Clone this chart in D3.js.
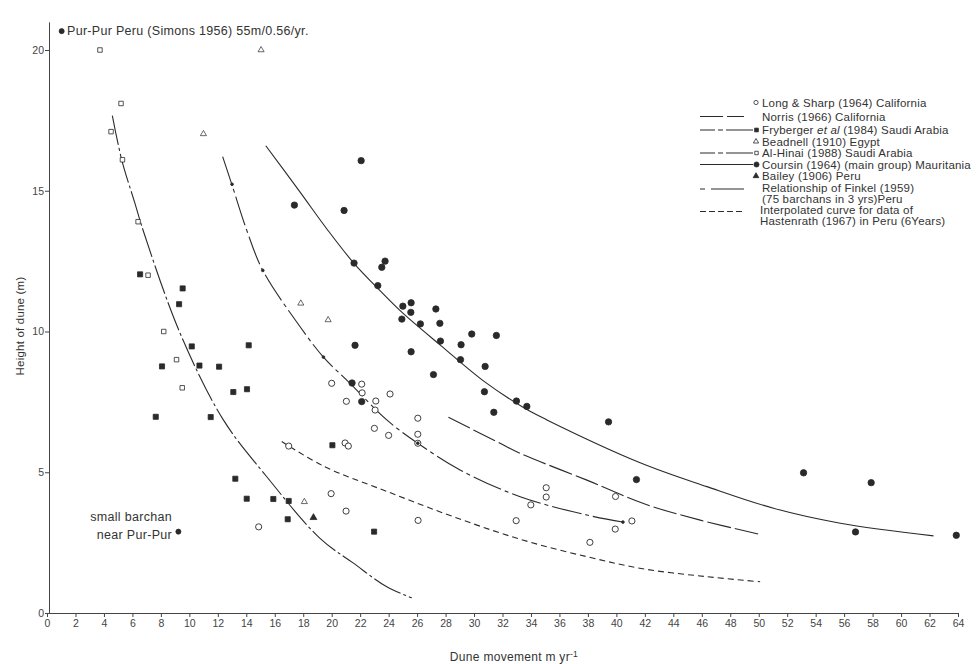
<!DOCTYPE html>
<html>
<head>
<meta charset="utf-8">
<script src="https://cdn.jsdelivr.net/npm/d3@7"></script>
<style>
  html, body { margin: 0; padding: 0; background: #fff; }
  svg { display: block; font-family: "Liberation Sans", Arial, Helvetica, sans-serif; }
  .axis text { font-size: 10.5px; fill: #444; }
  .axis path, .axis line { stroke: #444; stroke-width: 1; }
</style>
</head>
<body>
<svg id="chart" width="979" height="664"></svg>
<script>
// ---------- data ----------
const xTicks = d3.range(0, 65, 2);
const yTicks = [0, 5, 10, 15, 20];

const longSharp = [[20.0,8.16],[22.11,8.13],[22.14,7.82],[24.1,7.78],[21.03,7.52],[23.1,7.53],[23.05,7.21],[26.05,6.92],[23.0,6.56],[24.0,6.31],[26.05,6.35],[26.05,6.03],[20.94,6.04],[21.17,5.93],[19.96,4.24],[21.01,3.62],[26.07,3.29],[32.96,3.28],[33.99,3.84],[35.07,4.45],[35.07,4.12],[38.14,2.51],[39.94,4.14],[39.92,2.98],[41.09,3.27],[16.98,5.93],[14.87,3.06]];
const fryberger = [[6.54,12.03],[9.53,11.53],[9.28,10.97],[10.17,9.47],[14.17,9.51],[8.08,8.76],[10.71,8.79],[12.09,8.75],[13.09,7.85],[14.05,7.95],[7.64,6.97],[11.5,6.96],[13.23,4.77],[14.03,4.06],[15.9,4.05],[16.98,3.98],[16.91,3.33],[20.05,5.96],[22.98,2.89]];
const beadnell = [[15.04,20.0],[10.99,17.02],[17.83,11.0],[19.75,10.41],[18.08,3.95]];
const alHinai = [[3.72,20.0],[5.2,18.1],[4.5,17.1],[5.3,16.1],[6.4,13.9],[7.1,12.0],[8.2,10.0],[9.1,9.0],[9.5,8.0]];
const coursin = [[22.07,16.07],[17.38,14.49],[20.87,14.3],[21.57,12.43],[23.75,12.5],[23.52,12.28],[23.24,11.63],[25.0,10.9],[25.58,11.02],[25.56,10.68],[24.93,10.44],[27.32,10.8],[26.23,10.27],[27.6,10.29],[27.64,9.66],[25.58,9.28],[29.84,9.91],[31.57,9.86],[29.09,9.53],[29.05,9.0],[30.78,8.76],[27.15,8.47],[30.73,7.86],[31.39,7.13],[21.64,9.51],[21.43,8.17],[22.11,7.51],[32.98,7.53],[33.71,7.34],[39.45,6.79],[41.41,4.74],[53.15,4.98],[57.9,4.63],[56.8,2.88],[63.88,2.76]];
const bailey = [[18.72,3.39]];
const purPur = [[1.03,20.67]];
const smallBarchan = [[9.23,2.89]];
const finkelDots = [[13.0,15.23],[15.16,12.17],[19.42,9.09],[26.05,6.03],[40.46,3.23]];

const curveLeft = [[4.59,17.67],[5.25,16.1],[6.18,14.55],[6.82,13.49],[9.35,9.94],[12.39,6.86],[15.44,4.84],[19.18,2.65],[21.53,1.77],[23.87,0.93],[25.63,0.54]];
const curveFinkel = [[12.34,16.21],[13.0,15.2],[14.03,13.6],[15.16,12.17],[17.78,10.17],[19.42,9.09],[21.29,8.16],[23.87,6.86],[26.05,6.03],[29.02,5.08],[33.24,4.13],[37.93,3.48],[40.46,3.23]];
const curveCoursin = [[15.37,16.6],[17.78,14.95],[19.65,13.65],[21.52,12.45],[23.4,11.45],[25.0,10.65],[27.67,9.5],[30.78,8.2],[33.47,7.3],[35.12,6.86],[41.67,5.34],[46.36,4.49],[51.04,3.72],[55.73,3.19],[62.28,2.74]];
const curveNorris = [[28.2,6.95],[31.83,6.03],[33.24,5.67],[37.93,4.72],[42.0,3.87],[45.89,3.3],[50.03,2.8]];
const curveHastenrath = [[16.49,6.09],[19.5,5.2],[23.87,4.32],[28.55,3.42],[33.24,2.62],[37.93,2.0],[42.0,1.56],[46.36,1.29],[50.1,1.11]];

const legendLabels = [
  "Long &  Sharp (1964) California",
  "Norris (1966) California",
  "Fryberger et al (1984) Saudi Arabia",
  "Beadnell (1910) Egypt",
  "Al-Hinai (1988) Saudi Arabia",
  "Coursin (1964) (main group) Mauritania",
  "Bailey (1906) Peru",
  "Relationship of Finkel (1959)",
  "(75 barchans in 3 yrs)Peru",
  "Interpolated curve for data of",
  "Hastenrath (1967) in Peru (6Years)"
];

// ---------- drawing ----------
const ink = "#2a2a2a";
const svg = d3.select("#chart");
const x = d3.scaleLinear().domain([0, 64]).range([47, 958]);
const y = d3.scaleLinear().domain([0, 21]).range([613, 21.85]);

// axes
svg.append("g").attr("class", "axis").attr("transform", "translate(0,613)")
  .call(d3.axisBottom(x).tickValues(xTicks).tickSize(4).tickSizeOuter(0).tickPadding(3));
svg.append("g").attr("class", "axis").attr("transform", "translate(49,0)")
  .call(d3.axisLeft(y).tickValues(yTicks).tickSize(4).tickSizeOuter(0).tickPadding(1));

// axis titles
svg.append("text").attr("x", 514).attr("y", 661).attr("text-anchor", "middle")
  .attr("font-size", 12).attr("letter-spacing", 0.3).attr("fill", "#333")
  .html('Dune movement m yr<tspan dy="-4" font-size="8.5">-1</tspan>');
svg.append("text").attr("transform", "translate(24,326) rotate(-90)").attr("text-anchor", "middle")
  .attr("font-size", 11.5).attr("letter-spacing", 0.2).attr("fill", "#333").text("Height of dune (m)");

// curves
const line = d3.line().x(d => x(d[0])).y(d => y(d[1])).curve(d3.curveCatmullRom.alpha(0.5));
const curves = [
  [curveLeft, "30,3,3,3"],
  [curveFinkel, "30,4,4,4"],
  [curveCoursin, null],
  [curveNorris, "24,4"],
  [curveHastenrath, "6,4"]
];
curves.forEach(([data, dash]) => {
  svg.append("path").attr("d", line(data)).attr("fill", "none")
    .attr("stroke", ink).attr("stroke-width", 1.1)
    .attr("stroke-dasharray", dash);
});

// markers
function pts(data, shape, size, filled, sw) {
  svg.append("g").selectAll("path").data(data).join("path")
    .attr("transform", d => `translate(${x(d[0])},${y(d[1])})`)
    .attr("d", d3.symbol().type(shape).size(size))
    .attr("fill", filled ? ink : "#fff")
    .attr("stroke", ink).attr("stroke-width", sw || 0.8);
}
pts(longSharp, d3.symbolCircle, 30, false, 0.9);
pts(fryberger, d3.symbolSquare, 26, true);
pts(beadnell, d3.symbolTriangle, 16, false, 0.7);
pts(alHinai, d3.symbolSquare, 20, false, 0.8);
pts(coursin, d3.symbolCircle, 32, true);
pts(bailey, d3.symbolTriangle, 20, true);
pts(purPur, d3.symbolCircle, 20, true);
pts(smallBarchan, d3.symbolCircle, 20, true);
pts(finkelDots, d3.symbolCircle, 6, true);

// annotations
const ann = svg.append("g").attr("font-size", 12.5).attr("letter-spacing", 0.3).attr("fill", "#333");
ann.append("text").attr("x", 67).attr("y", 35).text("Pur-Pur Peru (Simons 1956) 55m/0.56/yr.");
ann.append("text").attr("x", 172).attr("y", 521).attr("text-anchor", "end").text("small barchan");
ann.append("text").attr("x", 172).attr("y", 539).attr("text-anchor", "end").text("near Pur-Pur");

// legend
const legYs = [102.5, 116.5, 130, 141.5, 153, 164.5, 176, 187.5, 199, 210, 221];
const lg = svg.append("g").attr("font-size", 11.5).attr("letter-spacing", 0.2).attr("fill", "#333");
legendLabels.forEach((t, i) => {
  const tx = lg.append("text").attr("x", i >= 9 ? 760 : 762).attr("y", legYs[i]).attr("dy", "0.35em");
  if (i === 2) {
    tx.append("tspan").text("Fryberger ");
    tx.append("tspan").attr("font-style", "italic").text("et al");
    tx.append("tspan").text(" (1984) Saudi Arabia");
  } else {
    tx.text(t);
  }
});
const legLines = [
  [legYs[1], 700, 744, "23,4"],
  [legYs[2], 700, 753, "15,3,5,3,40"],
  [legYs[4], 700, 753, "15,3,5,3,40"],
  [legYs[5], 700, 753, null],
  [legYs[7] + 1.5, 700, 744, "5,6,40"],
  [legYs[9] + 1.5, 700, 744, "6,3"]
];
legLines.forEach(([ly, x1, x2, dash]) => {
  lg.append("line").attr("x1", x1).attr("x2", x2).attr("y1", ly).attr("y2", ly)
    .attr("stroke", ink).attr("stroke-width", 1.1).attr("stroke-dasharray", dash);
});
function legSym(ly, shape, size, filled, cx) {
  lg.append("path").attr("transform", `translate(${cx},${ly})`)
    .attr("d", d3.symbol().type(shape).size(size))
    .attr("fill", filled ? ink : "#fff").attr("stroke", ink).attr("stroke-width", 0.8);
}
legSym(legYs[0], d3.symbolCircle, 14, false, 756);
legSym(legYs[2], d3.symbolSquare, 14, true, 756.5);
legSym(legYs[3], d3.symbolTriangle, 12, false, 756);
legSym(legYs[4], d3.symbolSquare, 12, false, 756.5);
legSym(legYs[5], d3.symbolCircle, 20, true, 756.5);
legSym(legYs[6], d3.symbolTriangle, 14, true, 756);
</script>
</body>
</html>
